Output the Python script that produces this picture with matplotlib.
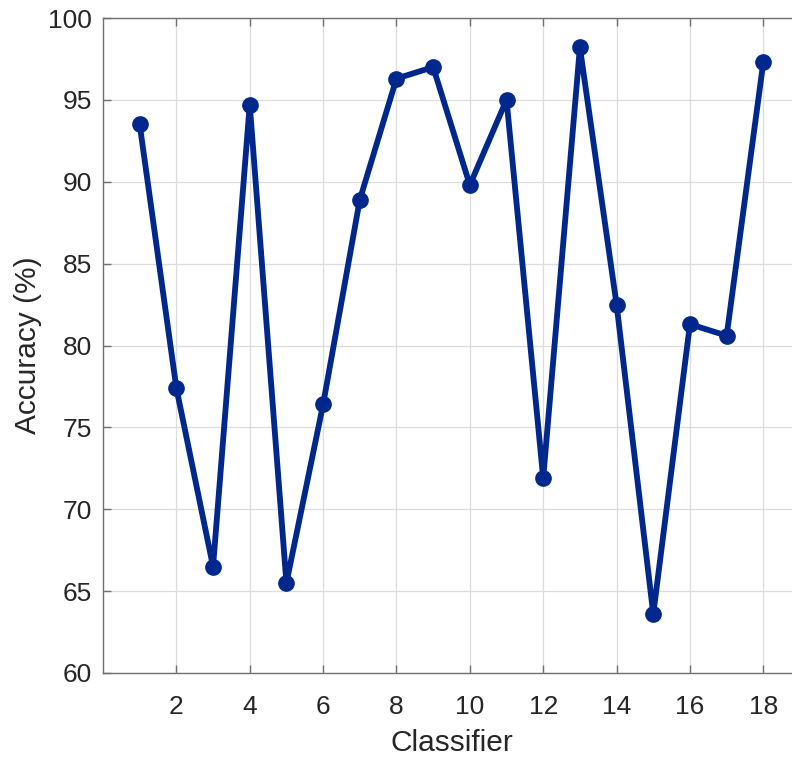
import matplotlib
matplotlib.use("Agg")
import matplotlib.pyplot as plt

classifiers = list(range(1, 19))
accuracy = [93.5, 77.4, 66.5, 94.7, 65.5, 76.4, 88.9, 96.3, 97.0, 89.8,
            95.0, 71.9, 98.2, 82.5, 63.6, 81.3, 80.6, 97.3]
xticks = [2, 4, 6, 8, 10, 12, 14, 16, 18]
yticks = [60, 65, 70, 75, 80, 85, 90, 95, 100]

plt.rcParams['font.family'] = ['Liberation Sans', 'DejaVu Sans']

fig = plt.figure(figsize=(7.92, 7.57), dpi=100)
W, H = 792, 757
left, right, top, bottom = 103, 800, 18, 673
ax = fig.add_axes([left / W, 1 - bottom / H, (right - left) / W, (bottom - top) / H])

ax.plot(classifiers, accuracy, color='#00288C', linewidth=4.2, marker='o',
        markersize=11, zorder=3, clip_on=False)

ax.set_xlim(0, 19)
ax.set_ylim(60, 100)
ax.set_xticks(xticks)
ax.set_yticks(yticks)
ax.grid(True, color='#dcdcdc', linewidth=0.9)
ax.set_axisbelow(True)
for s in ax.spines.values():
    s.set_color('#707070')
    s.set_linewidth(1.0)
ax.tick_params(direction='in', length=6, width=1, color='#707070',
               labelsize=19, labelcolor='#262626', top=True, right=True)
ax.tick_params(axis='x', pad=16)
ax.tick_params(axis='y', pad=8)
ax.set_xlabel('Classifier', fontsize=21.5, color='#262626', labelpad=7)
ax.set_ylabel('Accuracy (%)', fontsize=21.5, color='#262626', labelpad=4)

fig.savefig('out.png', dpi=100)
